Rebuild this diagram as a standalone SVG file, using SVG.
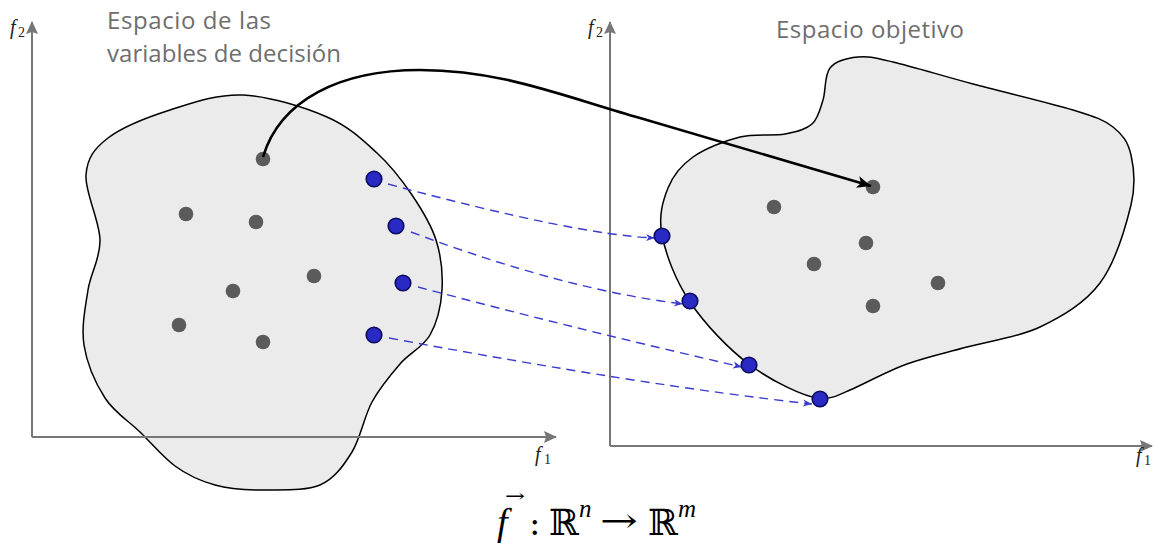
<svg xmlns="http://www.w3.org/2000/svg" width="1154" height="544" viewBox="0 0 1154 544">
<defs>
<style>
.blob{fill:#ebebeb;stroke:#000;stroke-width:1.5}
.axis{stroke:#777;stroke-width:2;fill:none}
.gdot{fill:#5b5b5b}
.bdot{fill:#2929c4;stroke:#0b0b5e;stroke-width:1.6}
.dash{fill:none;stroke:#3a3ad0;stroke-width:1.4;stroke-dasharray:9 6}
.map{fill:none;stroke:#000;stroke-width:2.6}
.title{font-family:"Open Sans",sans-serif;font-size:24px;fill:#6e6e6e}
.ax{font-family:"Liberation Serif",serif;font-style:italic;font-size:20px;fill:#222}
.sub{font-family:"Liberation Serif",serif;font-size:14px;fill:#222}
.math{font-family:"DejaVu Serif",serif;fill:#000}
.mi{font-family:"Liberation Serif",serif;font-style:italic;fill:#000}
</style>
<marker id="axhead" markerUnits="userSpaceOnUse" markerWidth="14" markerHeight="12" refX="12" refY="6" orient="auto">
<path d="M0,0 L13,6 L0,12 L2,6 Z" fill="#777"/>
</marker>
<marker id="bhead" markerUnits="userSpaceOnUse" markerWidth="10" markerHeight="8" refX="9" refY="4" orient="auto">
<path d="M0,0.5 L9,4 L0,7.5 L2.5,4 Z" fill="#3a3ad0"/>
</marker>
<marker id="khead" markerUnits="userSpaceOnUse" markerWidth="15" markerHeight="12" refX="14" refY="6" orient="auto">
<path d="M0,0 L14,6 L0,12 L3.5,6 Z" fill="#000"/>
</marker>
</defs>
<rect width="1154" height="544" fill="#fff"/>

<g id="decision-space">
<path class="blob" d="M243,95 C269.2,96.2 304.7,107.3 327,117 C349.3,126.7 362.8,140 377,153 C391.2,166 402.2,180.5 412,195 C421.8,209.5 431,224.2 436,240 C441,255.8 443,274.2 442,290 C441,305.8 437,322.7 430,335 C423,347.3 409.7,352.8 400,364 C390.3,375.2 380,387.3 372,402 C364,416.7 360.7,438 352,452 C343.3,466 334,479.3 320,485 C306,490.7 285.5,489.8 268,490 C250.5,490.2 230.5,489.3 215,485 C199.5,480.7 187.5,475.2 175,466 C162.5,456.8 151.7,443.3 140,432 C128.3,420.7 114.3,412.5 105,398 C95.7,383.5 86.8,363 84,345 C81.2,327 85.3,307.5 88,290 C90.7,272.5 100.3,259.2 100,240 C99.7,220.8 84.7,192 86,175 C87.3,158 94,148.8 108,138 C122,127.2 147.5,117.2 170,110 C192.5,102.8 216.8,93.8 243,95 Z"/>
<text class="title" x="107" y="28.5" textLength="164" lengthAdjust="spacing">Espacio de las</text>
<text class="title" x="107" y="62" textLength="234" lengthAdjust="spacing">variables de decisión</text>
</g>

<g id="objective-space">
<path class="blob" d="M858,57 C868.5,56 873.8,57.5 893,62 C912.2,66.5 943,76 973,84 C1003,92 1049.7,102.8 1073,110 C1096.3,117.2 1103.3,119.5 1113,127 C1122.7,134.5 1128,142 1131,155 C1134,168 1136.2,183.7 1131,205 C1125.8,226.3 1115.2,262.7 1100,283 C1084.8,303.3 1062.2,316.3 1040,327 C1017.8,337.7 989.2,340.8 967,347 C944.8,353.2 926.8,356.8 907,364 C887.2,371.2 864,384 850,390 C840,394.5 831,399.5 820,398.5 C803.7,397 771.7,381 750,365 C728.3,349 704.7,323.7 690,302 C675.3,280.3 665.7,254 662,235 C658.3,216 662.8,201 668,188 C673.2,175 681,165.5 693,157 C705,148.5 724.7,140.8 740,137 C755.3,133.2 773,136.2 785,134 C797,131.8 805.7,129.7 812,124 C818.3,118.3 820,109.3 823,100 C826,90.7 824.2,75.2 830,68 C835.8,60.8 847.5,58 858,57 Z"/>
<text class="title" x="776" y="37.5" textLength="188" lengthAdjust="spacing">Espacio objetivo</text>
</g>

<g id="axes-left">
<line class="axis" x1="32" y1="437" x2="32" y2="22" marker-end="url(#axhead)"/>
<line class="axis" x1="32" y1="437" x2="556" y2="437" marker-end="url(#axhead)"/>
<text class="ax" x="10" y="34">f</text>
<text class="sub" x="18" y="37">2</text>
<text class="ax" x="535" y="461">f</text>
<text class="sub" x="544" y="464">1</text>
</g>

<g id="axes-right">
<line class="axis" x1="610" y1="446" x2="610" y2="22" marker-end="url(#axhead)"/>
<line class="axis" x1="610" y1="446" x2="1152" y2="446" marker-end="url(#axhead)"/>
<text class="ax" x="588" y="34">f</text>
<text class="sub" x="596" y="37">2</text>
<text class="ax" x="1136" y="462">f</text>
<text class="sub" x="1144" y="465">1</text>
</g>

<g id="gray-points">
<g id="x1"><circle class="gdot" cx="263" cy="159" r="7.3"/></g>
<g id="x2"><circle class="gdot" cx="186" cy="214" r="7.3"/></g>
<g id="x3"><circle class="gdot" cx="256" cy="222" r="7.3"/></g>
<g id="x4"><circle class="gdot" cx="314" cy="276" r="7.3"/></g>
<g id="x5"><circle class="gdot" cx="233" cy="291" r="7.3"/></g>
<g id="x6"><circle class="gdot" cx="179" cy="325" r="7.3"/></g>
<g id="x7"><circle class="gdot" cx="263" cy="342" r="7.3"/></g>
<g id="y1"><circle class="gdot" cx="873" cy="187" r="7.3"/></g>
<g id="y2"><circle class="gdot" cx="774" cy="207" r="7.3"/></g>
<g id="y3"><circle class="gdot" cx="866" cy="243" r="7.3"/></g>
<g id="y4"><circle class="gdot" cx="814" cy="264" r="7.3"/></g>
<g id="y5"><circle class="gdot" cx="938" cy="283" r="7.3"/></g>
<g id="y6"><circle class="gdot" cx="873" cy="306" r="7.3"/></g>
</g>

<g id="connectors">
<path class="map" d="M263,157 C280,100 340,70 420,70 C500,70 560,95 640,118 L871,186" marker-end="url(#khead)"/>
<path class="dash" d="M388,184 Q577,235 655,238" marker-end="url(#bhead)"/>
<path class="dash" d="M411,232 Q566,290 683,304" marker-end="url(#bhead)"/>
<path class="dash" d="M418,287 Q580,330 742,367" marker-end="url(#bhead)"/>
<path class="dash" d="M389,338 Q647,386 812,404" marker-end="url(#bhead)"/>
</g>

<g id="blue-points">
<g id="p1"><circle class="bdot" cx="374" cy="179" r="7.8"/></g>
<g id="p2"><circle class="bdot" cx="396" cy="226" r="7.8"/></g>
<g id="p3"><circle class="bdot" cx="403" cy="283" r="7.8"/></g>
<g id="p4"><circle class="bdot" cx="374" cy="335" r="7.8"/></g>
<g id="q1"><circle class="bdot" cx="662" cy="236" r="7.8"/></g>
<g id="q2"><circle class="bdot" cx="690" cy="301" r="7.8"/></g>
<g id="q3"><circle class="bdot" cx="749" cy="365" r="7.8"/></g>
<g id="q4"><circle class="bdot" cx="820" cy="399" r="7.8"/></g>
</g>

<g id="formula">
<text class="mi" x="497" y="535" font-size="38">f</text>
<text class="math" x="505" y="502" font-size="18" textLength="20" lengthAdjust="spacingAndGlyphs">→</text>
<text class="math" x="529" y="535" font-size="34">:</text>
<text class="math" x="549" y="535" font-size="36">ℝ</text>
<text class="mi" x="579" y="517" font-size="25">n</text>
<text class="math" x="600" y="532" font-size="34" textLength="38" lengthAdjust="spacingAndGlyphs">→</text>
<text class="math" x="648" y="535" font-size="36">ℝ</text>
<text class="mi" x="678" y="517" font-size="25">m</text>
</g>
</svg>
